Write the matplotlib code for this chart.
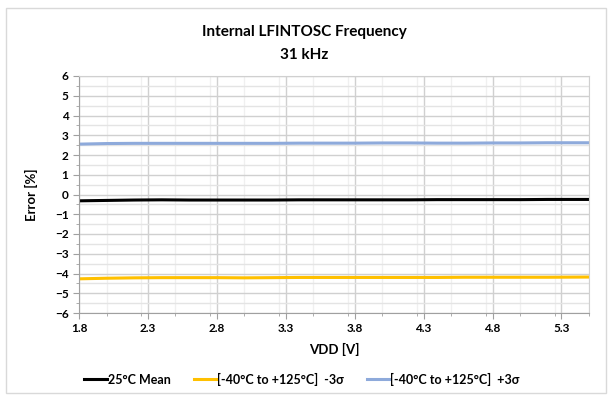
import numpy as np
import matplotlib.pyplot as plt
from matplotlib.ticker import MultipleLocator
from matplotlib.patches import Rectangle

plt.rcParams['font.family'] = ['Lato', 'DejaVu Sans']
plt.rcParams['font.weight'] = 'bold'

# VDD sweep and error values
vdd = [1.8, 2.0, 2.2, 2.4, 2.6, 2.8, 3.0, 3.2, 3.4, 3.6, 3.8, 4.0, 4.2, 4.4, 4.6, 4.8, 5.0, 5.2, 5.5]
mean25 = [-0.32, -0.30, -0.28, -0.27, -0.28, -0.28, -0.28, -0.28, -0.27, -0.27, -0.27, -0.27,
          -0.27, -0.26, -0.26, -0.26, -0.26, -0.25, -0.25]
minus3s = [-4.27, -4.24, -4.22, -4.21, -4.21, -4.21, -4.22, -4.21, -4.20, -4.20, -4.20, -4.20,
           -4.20, -4.20, -4.19, -4.19, -4.19, -4.19, -4.18]
plus3s = [2.55, 2.58, 2.59, 2.59, 2.59, 2.59, 2.59, 2.59, 2.60, 2.60, 2.60, 2.61,
          2.61, 2.60, 2.60, 2.61, 2.61, 2.62, 2.62]

fig = plt.figure(figsize=(6.08, 3.96), dpi=100)
ax = fig.add_axes([79 / 608, 1 - 313 / 396, (589 - 79) / 608, (313 - 76) / 396])

# outer chart border
fig.patches.append(Rectangle((6 / 608, 3 / 396), 600 / 608, 385 / 396, transform=fig.transFigure,
                             fill=False, edgecolor='#d9d9d9', lw=1))

ax.plot(vdd, mean25, color='black', lw=2.2, label='25°C Mean')
ax.plot(vdd, minus3s, color='#ffc000', lw=2.2, label='[-40°C to +125°C]  -3σ')
ax.plot(vdd, plus3s, color='#8eaadb', lw=2.2, label='[-40°C to +125°C]  +3σ')

ax.set_xlim(1.8, 5.5)
ax.set_ylim(-6, 6)
ax.xaxis.set_minor_locator(MultipleLocator(0.25))
ax.yaxis.set_major_locator(MultipleLocator(1))
ax.yaxis.set_minor_locator(MultipleLocator(0.5))
ax.set_xticks(np.arange(1.8, 5.31, 0.5))
ax.set_xticklabels(['%.1f' % v for v in np.arange(1.8, 5.31, 0.5)])
ax.grid(which='major', color='#d0d0d0', lw=1)
ax.grid(which='minor', axis='y', color='#e4e4e4', lw=1)
ax.grid(which='minor', axis='x', color='#f0f0f0', lw=1)
ax.set_axisbelow(True)
for s in ['top', 'right']:
    ax.spines[s].set_color('#d0d0d0')
for s in ['left', 'bottom']:
    ax.spines[s].set_color('#a0a0a0')
ax.tick_params(which='both', direction='out', color='#a0a0a0', labelsize=8.5)
ax.tick_params(which='major', length=4)
ax.tick_params(which='minor', length=2)

ax.set_xlabel('VDD [V]', fontsize=9.5, fontweight='bold', labelpad=6)
ax.set_ylabel('Error [%]', fontsize=9.5, fontweight='bold', labelpad=12)
fig.text(0.5, 1 - 32 / 396, 'Internal LFINTOSC Frequency', ha='center', va='center',
         fontsize=11, fontweight='bold')
fig.text(0.5, 1 - 55 / 396, '31 kHz', ha='center', va='center', fontsize=11, fontweight='bold')

fig.legend(loc='center', bbox_to_anchor=(302 / 608, 1 - 379 / 396), ncol=3, frameon=False,
           fontsize=9, handlelength=1.8, handletextpad=0.1, columnspacing=1.8)

fig.savefig('out.png', dpi=100)
